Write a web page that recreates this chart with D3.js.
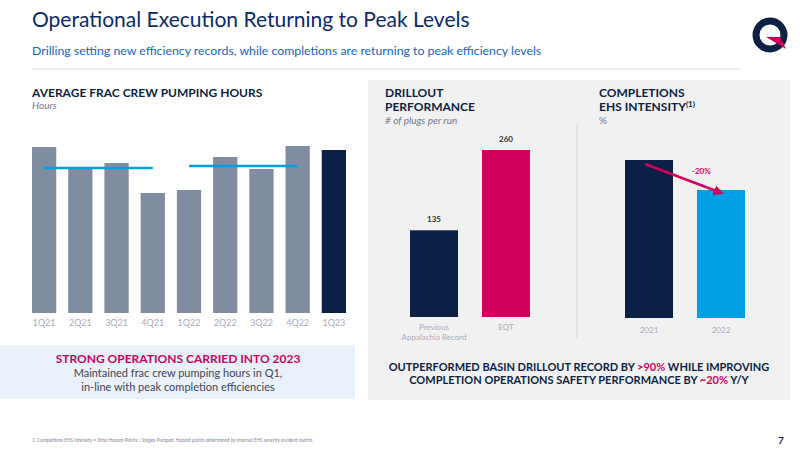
<!DOCTYPE html>
<html><head><meta charset="utf-8">
<script src="https://cdn.jsdelivr.net/npm/d3@7"></script>
<style>body{margin:0;background:#fff}svg{font-family:Lato,"Open Sans",sans-serif}</style>
</head><body><svg id="c" width="800" height="450"></svg>
<script>
const quarters=["1Q21","2Q21","3Q21","4Q21","1Q22","2Q22","3Q22","4Q22","1Q23"];
const hours=[166,145,150,120,123,156,144,167,163];
const yearAvg=[{from:"1Q21",to:"4Q21",v:145},{from:"1Q22",to:"4Q22",v:147}];
const drillCats=["Previous\nAppalachia Record","EQT"];
const drillVals=[135,260];
const ehsCats=["2021","2022"];
const ehsVals=[100,81];

const svg=d3.select("#c");
const navy="#0c1f45", blue="#009fe3", mag="#d1005d", grey="#808c9f";
svg.append("text").attr("x",32).attr("y",27).attr("font-size",21).attr("fill","#0b2b6b").text("Operational Execution Returning to Peak Levels");
svg.append("text").attr("x",32).attr("y",55).attr("font-size",12.3).attr("fill","#1565c0").text("Drilling setting new efficiency records, while completions are returning to peak efficiency levels");
svg.append("line").attr("x1",32).attr("x2",740).attr("y1",69).attr("y2",69).attr("stroke","#d5d9e0");
const lg=svg.append("g").attr("transform","translate(770,35)");
lg.append("circle").attr("r",14).attr("fill","none").attr("stroke",navy).attr("stroke-width",7);
lg.append("path").attr("d","M-4,2 L16,14 L10,2 Z").attr("fill",mag);

svg.append("text").attr("x",32).attr("y",97).attr("font-size",12).attr("font-weight",700).attr("fill",navy).text("AVERAGE FRAC CREW PUMPING HOURS");
svg.append("text").attr("x",32).attr("y",109).attr("font-size",10).attr("font-style","italic").attr("fill","#778").text("Hours");
const x1=d3.scaleBand().domain(quarters).range([32,346]).paddingInner(0.33).paddingOuter(0);
const y1=d3.scaleLinear().domain([0,167]).range([313,146]);
svg.selectAll(".hb").data(quarters).join("rect").attr("x",d=>x1(d)).attr("width",x1.bandwidth())
 .attr("y",(d,i)=>y1(hours[i])).attr("height",(d,i)=>313-y1(hours[i])).attr("fill",(d,i)=>i==8?navy:grey);
yearAvg.forEach(a=>svg.append("line").attr("x1",x1(a.from)+x1.bandwidth()/2).attr("x2",x1(a.to)+x1.bandwidth()/2)
 .attr("y1",y1(a.v)).attr("y2",y1(a.v)).attr("stroke",blue).attr("stroke-width",2.5));
svg.append("g").attr("transform","translate(0,313)").call(d3.axisBottom(x1).tickSize(0).tickPadding(7))
 .call(g=>{g.select(".domain").remove();g.selectAll("text").attr("fill","#aab").attr("font-size",9).attr("font-family","Lato,sans-serif");});
svg.append("rect").attr("x",0).attr("y",345).attr("width",355).attr("height",54).attr("fill","#e9f1fb");
svg.append("text").attr("x",178).attr("y",363).attr("text-anchor","middle").attr("font-size",12).attr("font-weight",700).attr("fill",mag).text("STRONG OPERATIONS CARRIED INTO 2023");
svg.append("text").attr("x",178).attr("y",377).attr("text-anchor","middle").attr("font-size",11).attr("fill","#445").text("Maintained frac crew pumping hours in Q1,");
svg.append("text").attr("x",178).attr("y",391).attr("text-anchor","middle").attr("font-size",11).attr("fill","#445").text("in-line with peak completion efficiencies");

svg.append("rect").attr("x",368).attr("y",80).attr("width",422).attr("height",320).attr("fill","#f1f1f2");
svg.append("line").attr("x1",577).attr("x2",577).attr("y1",124).attr("y2",338).attr("stroke","#d4d4d8");
svg.append("text").attr("x",385).attr("y",97).attr("font-size",12).attr("font-weight",700).attr("fill",navy).text("DRILLOUT");
svg.append("text").attr("x",385).attr("y",111).attr("font-size",12).attr("font-weight",700).attr("fill",navy).text("PERFORMANCE");
svg.append("text").attr("x",385).attr("y",124).attr("font-size",10).attr("font-style","italic").attr("fill","#778").text("# of plugs per run");
const x2=d3.scaleBand().domain(drillCats).range([410,530]).paddingInner(1/3).paddingOuter(0);
const y2=d3.scaleLinear().domain([0,260]).range([317,150]);
svg.selectAll(".db").data(drillCats).join("rect").attr("x",d=>x2(d)).attr("width",x2.bandwidth())
 .attr("y",(d,i)=>y2(drillVals[i])).attr("height",(d,i)=>317-y2(drillVals[i])).attr("fill",(d,i)=>i?mag:navy);
svg.selectAll(".dl").data(drillCats).join("text").attr("x",d=>x2(d)+x2.bandwidth()/2).attr("y",(d,i)=>y2(drillVals[i])-8)
 .attr("text-anchor","middle").attr("font-size",8).attr("font-weight",700).attr("fill","#333").text((d,i)=>drillVals[i]);
drillCats.forEach(c=>c.split("\n").forEach((t,j)=>svg.append("text").attr("x",x2(c)+x2.bandwidth()/2).attr("y",330+j*10)
 .attr("text-anchor","middle").attr("font-size",8).attr("fill","#aab").text(t)));

svg.append("text").attr("x",599).attr("y",97).attr("font-size",12).attr("font-weight",700).attr("fill",navy).text("COMPLETIONS");
const eh=svg.append("text").attr("x",599).attr("y",111).attr("font-size",12).attr("font-weight",700).attr("fill",navy).text("EHS INTENSITY");
eh.append("tspan").attr("font-size",8).attr("dy",-4).text("(1)");
svg.append("text").attr("x",599).attr("y",124).attr("font-size",10).attr("fill","#778").text("%");
const x3=d3.scaleBand().domain(ehsCats).range([625,745]).paddingInner(1/3).paddingOuter(0);
const y3=d3.scaleLinear().domain([0,100]).range([318,160]);
svg.selectAll(".eb").data(ehsCats).join("rect").attr("x",d=>x3(d)).attr("width",x3.bandwidth())
 .attr("y",(d,i)=>y3(ehsVals[i])).attr("height",(d,i)=>318-y3(ehsVals[i])).attr("fill",(d,i)=>i?blue:navy);
svg.append("g").attr("transform","translate(0,318)").call(d3.axisBottom(x3).tickSize(0).tickPadding(9))
 .call(g=>{g.select(".domain").remove();g.selectAll("text").attr("fill","#aab").attr("font-size",8).attr("font-family","Lato,sans-serif");});
svg.append("defs").append("marker").attr("id","ah").attr("viewBox","0 0 10 10").attr("refX",5).attr("refY",5)
 .attr("markerWidth",4).attr("markerHeight",4).attr("orient","auto").append("path").attr("d","M0,0L10,5L0,10Z").attr("fill",mag);
svg.append("line").attr("x1",x3("2021")+20).attr("y1",y3(ehsVals[0])+4).attr("x2",x3("2022")+22).attr("y2",y3(ehsVals[1])+2)
 .attr("stroke",mag).attr("stroke-width",2.5).attr("marker-end","url(#ah)");
svg.append("text").attr("x",692).attr("y",174).attr("font-size",8).attr("font-weight",700).attr("fill",mag).text("-20%");

const b1=svg.append("text").attr("x",579).attr("y",371).attr("text-anchor","middle").attr("font-size",11).attr("font-weight",700).attr("fill",navy);
b1.append("tspan").text("OUTPERFORMED BASIN DRILLOUT RECORD BY ");b1.append("tspan").attr("fill",mag).text(">90%");b1.append("tspan").text(" WHILE IMPROVING");
const b2=svg.append("text").attr("x",579).attr("y",384).attr("text-anchor","middle").attr("font-size",11).attr("font-weight",700).attr("fill",navy);
b2.append("tspan").text("COMPLETION OPERATIONS SAFETY PERFORMANCE BY ");b2.append("tspan").attr("fill",mag).text("~20%");b2.append("tspan").text(" Y/Y");

svg.append("text").attr("x",32).attr("y",442).attr("font-size",5).attr("font-style","italic").attr("fill","#889").text("1. Completions EHS Intensity = Total Hazard Points / Stages Pumped. Hazard points determined by internal EHS severity incident matrix.");
svg.append("text").attr("x",778).attr("y",444).attr("font-size",10).attr("font-weight",700).attr("fill",navy).text("7");
</script></body></html>
